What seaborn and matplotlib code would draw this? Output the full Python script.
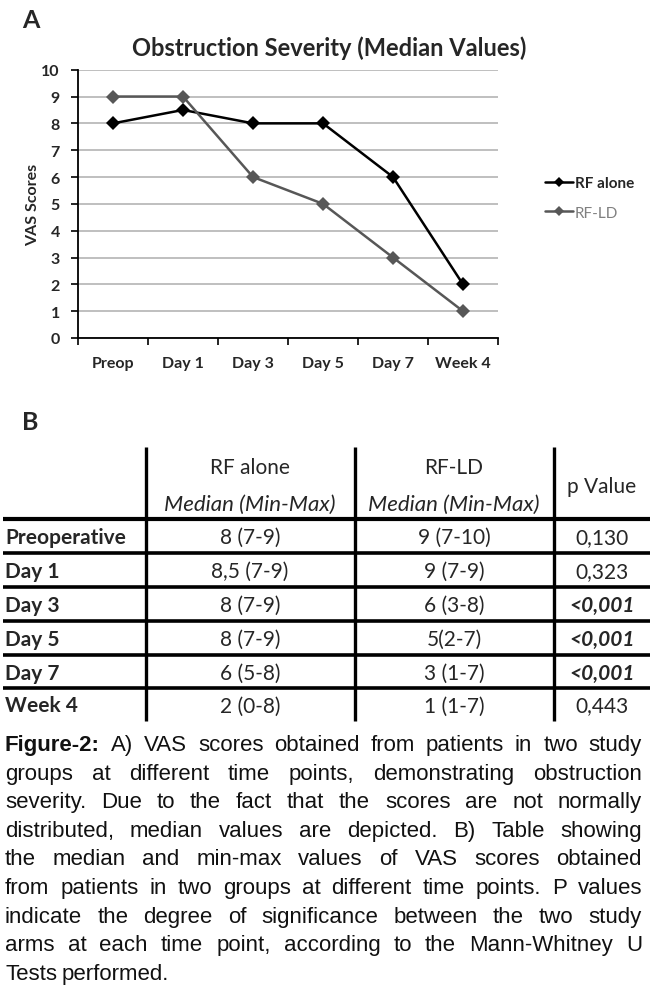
import numpy as np
import pandas as pd
import seaborn as sns
import matplotlib.pyplot as plt
from matplotlib.lines import Line2D

# chart data (median VAS scores)
time_points = ["Preop", "Day 1", "Day 3", "Day 5", "Day 7", "Week 4"]
rf_alone = [8, 8.5, 8, 8, 6, 2]
rf_ld = [9, 9, 6, 5, 3, 1]

# table data
row_labels = ["Preoperative", "Day 1", "Day 3", "Day 5", "Day 7", "Week 4"]
rf_alone_cells = ["8 (7-9)", "8,5 (7-9)", "8 (7-9)", "8 (7-9)", "6 (5-8)", "2 (0-8)"]
rf_ld_cells = ["9 (7-10)", "9 (7-9)", "6 (3-8)", "5(2-7)", "3 (1-7)", "1 (1-7)"]
p_values = ["0,130", "0,323", "<0,001", "<0,001", "<0,001", "0,443"]
significant = [False, False, True, True, True, False]

caption_lines = [
    "Figure-2: A) VAS scores obtained from patients in two study",
    "groups at different time points, demonstrating obstruction",
    "severity. Due to the fact that the scores are not normally",
    "distributed, median values are depicted. B) Table showing",
    "the median and min-max values of VAS scores obtained",
    "from patients in two groups at different time points. P values",
    "indicate the degree of significance between the two study",
    "arms at each time point, according to the Mann-Whitney U",
    "Tests performed.",
]

sns.set_theme(style="white")
plt.rcParams["font.family"] = ["Lato", "DejaVu Sans"]
cap_font = "Liberation Sans"

W, H = 650, 995
fig = plt.figure(figsize=(W / 100, H / 100), dpi=100)

# ---- panel A: line chart ----
ax = fig.add_axes([78 / W, 1 - 339 / H, (498 - 78) / W, (339 - 70.7) / H])
df = pd.DataFrame({
    "time": time_points * 2,
    "score": rf_alone + rf_ld,
    "group": ["RF alone"] * len(rf_alone) + ["RF-LD"] * len(rf_ld),
})
line_colors = ["black", "#575757"]
sns.lineplot(data=df, x="time", y="score", hue="group", style="group",
             hue_order=["RF alone", "RF-LD"], markers=["D", "D"], dashes=False,
             palette=line_colors, sort=False, linewidth=1.8, markersize=7.5,
             markeredgewidth=0, legend=False, ax=ax)

ax.set_xlim(-0.5, 5.5)
ax.set_ylim(0, 10)
ax.set_yticks(range(0, 11))
ax.set_xticks(range(len(time_points)))
ax.set_xticklabels(time_points)
ax.set_xticks(np.arange(-0.5, 6, 1), minor=True)
ax.yaxis.grid(True, color="#b4b4b4", linewidth=1.2)
ax.xaxis.grid(False)
ax.set_axisbelow(True)
ax.tick_params(axis="x", which="major", bottom=False, pad=7, labelsize=11.5)
ax.tick_params(axis="x", which="minor", bottom=True, length=5, width=1.2,
               direction="out", color="black")
ax.tick_params(axis="y", left=True, length=5, width=1.2, direction="out",
               color="black", pad=8, labelsize=11.5)
for lbl in ax.get_xticklabels() + ax.get_yticklabels():
    lbl.set_fontweight("bold")
ax.set_xlabel("")
ax.set_ylabel("VAS Scores", fontsize=11.5, fontweight="bold")
ax.yaxis.set_label_coords(-0.09, 0.5)
sns.despine(ax=ax)
for side in ["left", "bottom"]:
    ax.spines[side].set_color("black")
    ax.spines[side].set_linewidth(1.3)

fig.text(329 / W, 1 - 48 / H, "Obstruction Severity (Median Values)",
         ha="center", va="center", fontsize=17, fontweight="bold")
fig.text(22 / W, 1 - 21 / H, "A", ha="left", va="center", fontsize=18,
         fontweight="bold")

handles = [Line2D([], [], color=c, marker="D", markersize=5.5, lw=1.8, markeredgewidth=0)
           for c in line_colors]
leg = fig.legend(handles, ["RF alone", "RF-LD"], loc="center left",
                 bbox_to_anchor=(545 / W, 1 - 199 / H), frameon=False,
                 handlelength=1.8, handletextpad=0.15, labelspacing=1.0,
                 fontsize=11, borderpad=0, borderaxespad=0)
leg.get_texts()[0].set_fontweight("bold")
leg.get_texts()[1].set_color("#808080")

# ---- overlay in pixel coordinates for panel B and caption ----
ov = fig.add_axes([0, 0, 1, 1])
ov.set_xlim(0, W)
ov.set_ylim(H, 0)
ov.axis("off")
ov.patch.set_visible(False)

ov.text(22, 423, "B", ha="left", va="center", fontsize=18, fontweight="bold")

col_x = [250, 454, 602]
for x in [146, 355, 554]:
    ov.plot([x, x], [448, 722], color="black", lw=2.4, solid_capstyle="butt")
row_lines = [520, 554, 588, 622, 656, 689]
for i, y in enumerate(row_lines):
    ov.plot([3, W], [y, y], color="black", lw=3.0 if i == 0 else 2.6,
            solid_capstyle="butt")

fs = 15
ov.text(col_x[0], 468, "RF alone", ha="center", va="center", fontsize=fs)
ov.text(col_x[0], 505, "Median (Min-Max)", ha="center", va="center",
        fontsize=16, style="italic")
ov.text(col_x[1], 468, "RF-LD", ha="center", va="center", fontsize=fs)
ov.text(col_x[1], 505, "Median (Min-Max)", ha="center", va="center",
        fontsize=16, style="italic")
ov.text(col_x[2], 487, "p Value", ha="center", va="center", fontsize=fs)

row_bounds = row_lines + [722]
for i, lab in enumerate(row_labels):
    yc = (row_bounds[i] + row_bounds[i + 1]) / 2 + 1
    ov.text(5, yc, lab, ha="left", va="center", fontsize=fs, fontweight="bold")
    ov.text(col_x[0], yc, rf_alone_cells[i], ha="center", va="center", fontsize=fs)
    ov.text(col_x[1], yc, rf_ld_cells[i], ha="center", va="center", fontsize=fs)
    ov.text(col_x[2], yc, p_values[i], ha="center", va="center", fontsize=fs,
            fontweight="bold" if significant[i] else "normal",
            style="italic" if significant[i] else "normal")

# ---- caption, justified ----
fig.canvas.draw()
renderer = fig.canvas.get_renderer()
left, right = 5, 642
cap_size = 16
for i, line in enumerate(caption_lines):
    y = 751 + i * 28.6
    words = line.split(" ")
    texts = []
    for j, w in enumerate(words):
        bold = i == 0 and j == 0
        t = ov.text(0, y, w, ha="left", va="baseline", fontsize=cap_size,
                    family=cap_font, fontweight="bold" if bold else "normal",
                    color="#111111")
        texts.append(t)
    widths = [t.get_window_extent(renderer).width for t in texts]
    if i < len(caption_lines) - 1:
        gap = (right - left - sum(widths)) / (len(words) - 1)
    else:
        gap = 4.5
    x = left
    for t, w in zip(texts, widths):
        t.set_x(x)
        x += w + gap

fig.savefig("out.png", dpi=100)
